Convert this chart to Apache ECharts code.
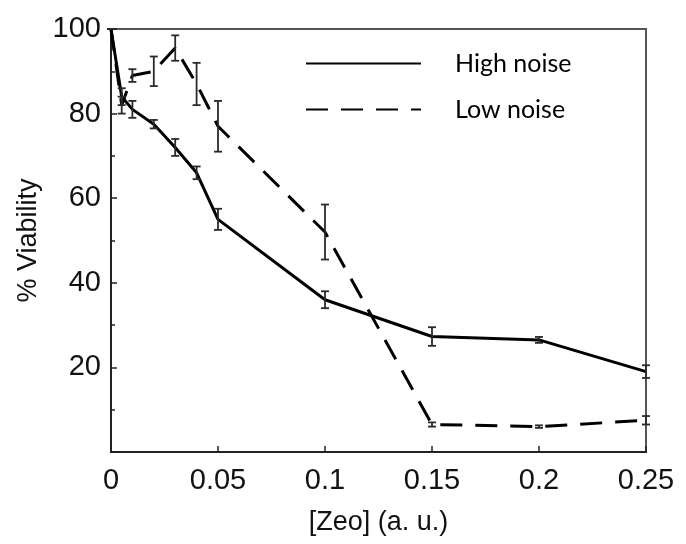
<!DOCTYPE html>
<html>
<head>
<meta charset="utf-8">
<script src="https://cdn.jsdelivr.net/npm/echarts@6/dist/echarts.min.js"></script>
<style>
  html, body { margin: 0; padding: 0; background: #fff; }
  #chart { width: 686px; height: 544px; }
</style>
</head>
<body>
<div id="chart"></div>
<script>
// [Zeo] concentration (a. u.)
const zeo = [0, 0.005, 0.01, 0.02, 0.03, 0.04, 0.05, 0.1, 0.15, 0.2, 0.25];

// % viability, high noise (solid) and low noise (dashed)
const highNoise = [100, 84, 81, 77.5, 72, 66, 55, 36, 27.3, 26.5, 19];
const highErr   = [0, 2, 2, 1, 2, 1.5, 2.5, 2, 2.2, 0.7, 1.5];
const lowNoise  = [100, 82, 89, 90, 95.5, 87, 77, 52, 6.5, 6, 7.5];
const lowErr    = [0, 2, 1.5, 3.5, 3, 5, 6, 6.5, 0.5, 0.3, 1];

const seriesNames = ['High noise', 'Low noise'];

const toPairs = (ys) => zeo.map((x, i) => [x, ys[i]]);
const toErr = (ys, es) => zeo.map((x, i) => [x, ys[i] - es[i], ys[i] + es[i]]);

function errorBar(params, api) {
    const lo = api.coord([api.value(0), api.value(1)]);
    const hi = api.coord([api.value(0), api.value(2)]);
    const w = 4;
    const style = { stroke: '#2a2a2a', lineWidth: 1.8 };
    return {
        type: 'group',
        children: [
            { type: 'line', shape: { x1: lo[0], y1: lo[1], x2: hi[0], y2: hi[1] }, style: style },
            { type: 'line', shape: { x1: lo[0] - w, y1: lo[1], x2: lo[0] + w, y2: lo[1] }, style: style },
            { type: 'line', shape: { x1: hi[0] - w, y1: hi[1], x2: hi[0] + w, y2: hi[1] }, style: style }
        ]
    };
}

const axisFont = { fontFamily: 'Liberation Sans', fontSize: 29, color: '#111' };

const myChart = echarts.init(document.getElementById('chart'));
myChart.setOption({
    animation: false,
    grid: {
        left: 111, right: 40, top: 29, bottom: 92,
        show: true, borderColor: '#555', borderWidth: 2
    },
    legend: {
        orient: 'vertical',
        left: 300, top: 46,
        itemWidth: 115, itemHeight: 20, itemGap: 21,
        data: seriesNames,
        itemStyle: { opacity: 0 },
        textStyle: {
            fontFamily: 'Lato', fontSize: 25, color: '#000',
            padding: [0, 0, 0, 29], lineHeight: 20
        }
    },
    xAxis: {
        type: 'value',
        min: 0, max: 0.25, interval: 0.05,
        name: '[Zeo] (a. u.)',
        nameLocation: 'middle',
        nameGap: 57,
        nameTextStyle: { fontFamily: 'Liberation Sans', fontSize: 27, color: '#111' },
        axisLine: { lineStyle: { color: '#222', width: 2 } },
        axisTick: { inside: true, length: 6, lineStyle: { color: '#222', width: 1.5 } },
        axisLabel: {
            ...axisFont, margin: 14,
            formatter: (v) => String(+v.toFixed(2))
        },
        splitLine: { show: false }
    },
    yAxis: {
        type: 'value',
        min: 0, max: 100, interval: 20,
        name: '% Viability',
        nameLocation: 'middle',
        nameGap: 63,
        nameTextStyle: { fontFamily: 'Liberation Sans', fontSize: 27, color: '#111' },
        axisLine: { show: true, lineStyle: { color: '#222', width: 2 } },
        axisTick: { inside: true, length: 6, lineStyle: { color: '#222', width: 1.5 } },
        minorTick: { show: true, splitNumber: 2, length: 4, lineStyle: { color: '#222', width: 1.5 } },
        axisLabel: {
            ...axisFont, margin: 10,
            formatter: (v) => (v === 0 ? '' : String(v))
        },
        splitLine: { show: false }
    },
    series: [
        {
            name: seriesNames[0],
            type: 'line',
            data: toPairs(highNoise),
            symbol: 'none',
            z: 3,
            itemStyle: { color: '#000' },
            lineStyle: { color: '#000', width: 3 }
        },
        {
            name: seriesNames[1],
            type: 'line',
            data: toPairs(lowNoise),
            symbol: 'none',
            z: 3,
            itemStyle: { color: '#000' },
            lineStyle: { color: '#000', width: 3, type: [22, 13] }
        },
        {
            type: 'custom',
            renderItem: errorBar,
            data: toErr(highNoise, highErr),
            z: 4
        },
        {
            type: 'custom',
            renderItem: errorBar,
            data: toErr(lowNoise, lowErr),
            z: 4
        }
    ]
});
</script>
</body>
</html>
